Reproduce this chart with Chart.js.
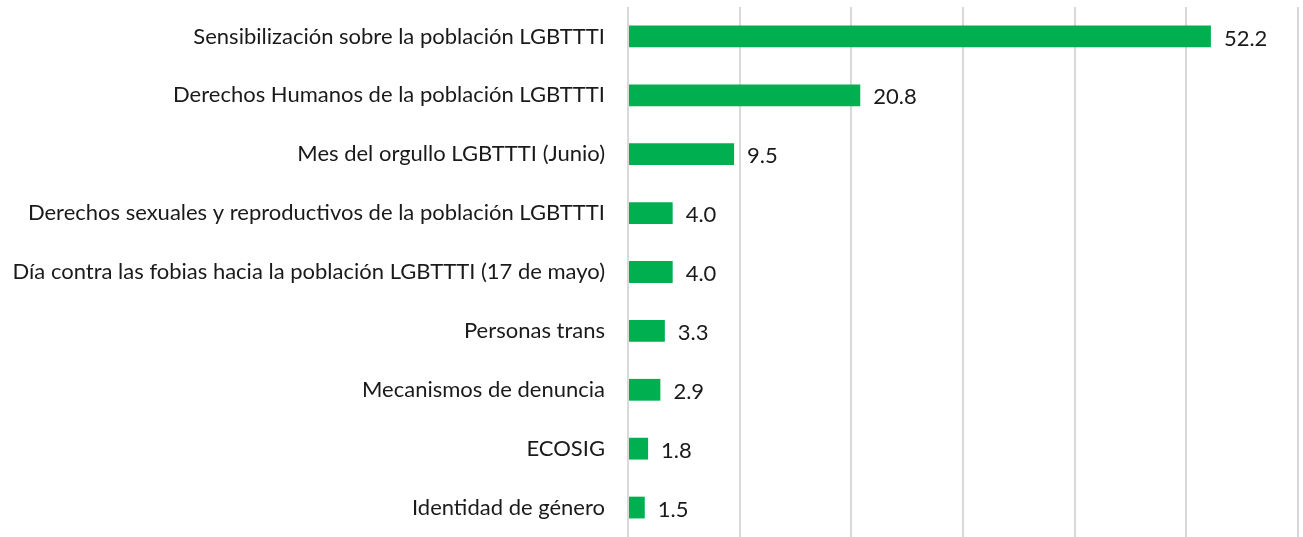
<!DOCTYPE html>
<html>
<head>
<meta charset="utf-8">
<script src="https://cdn.jsdelivr.net/npm/chart.js@4"></script>
<style>
  html, body { margin: 0; padding: 0; background: #fff; }
  #wrap { width: 1303px; height: 537px; }
</style>
</head>
<body>
<div id="wrap"><canvas id="chart"></canvas></div>
<script>
const categories = [
  "Sensibilización sobre la población LGBTTTI",
  "Derechos Humanos de la población LGBTTTI",
  "Mes del orgullo LGBTTTI (Junio)",
  "Derechos sexuales y reproductivos de la población LGBTTTI",
  "Día contra las fobias hacia la población LGBTTTI (17 de mayo)",
  "Personas trans",
  "Mecanismos de denuncia",
  "ECOSIG",
  "Identidad de género"
];
const values = [52.2, 20.8, 9.5, 4.0, 4.0, 3.3, 2.9, 1.8, 1.5];
const xMax = 60;
const xStep = 10;

const FONT = "Lato, 'Open Sans', sans-serif";

// value labels drawn next to each bar end
const valueLabels = {
  id: "valueLabels",
  afterDatasetsDraw(chart) {
    const ctx = chart.ctx;
    const meta = chart.getDatasetMeta(0);
    ctx.save();
    ctx.font = "22px " + FONT;
    ctx.fillStyle = "#1a1a1a";
    ctx.textAlign = "left";
    ctx.textBaseline = "middle";
    meta.data.forEach((bar, i) => {
      ctx.fillText(values[i].toFixed(1), bar.x + 13, bar.y + 2);
    });
    ctx.restore();
  }
};

new Chart(document.getElementById("chart"), {
  type: "bar",
  data: {
    labels: categories,
    datasets: [{
      data: values,
      backgroundColor: "#00B050",
      borderWidth: 0,
      categoryPercentage: 1,
      barPercentage: 0.37
    }]
  },
  options: {
    indexAxis: "y",
    responsive: true,
    maintainAspectRatio: false,
    animation: false,
    layout: { padding: { top: 7, right: 5, bottom: -3, left: 0 } },
    plugins: {
      legend: { display: false },
      tooltip: { enabled: false }
    },
    scales: {
      x: {
        min: 0,
        max: xMax,
        ticks: { stepSize: xStep, display: false },
        grid: { color: "#d9d9d9", lineWidth: 2, drawTicks: false },
        border: { display: false }
      },
      y: {
        grid: { display: false },
        border: { display: false },
        ticks: {
          color: "#1a1a1a",
          padding: 15,
          font: { family: FONT, size: 22 }
        },
        afterFit: s => {
          s.width = 628;
          s.paddingTop = 0;
          s.paddingBottom = 0;
        }
      }
    }
  },
  plugins: [valueLabels]
});
</script>
</body>
</html>
